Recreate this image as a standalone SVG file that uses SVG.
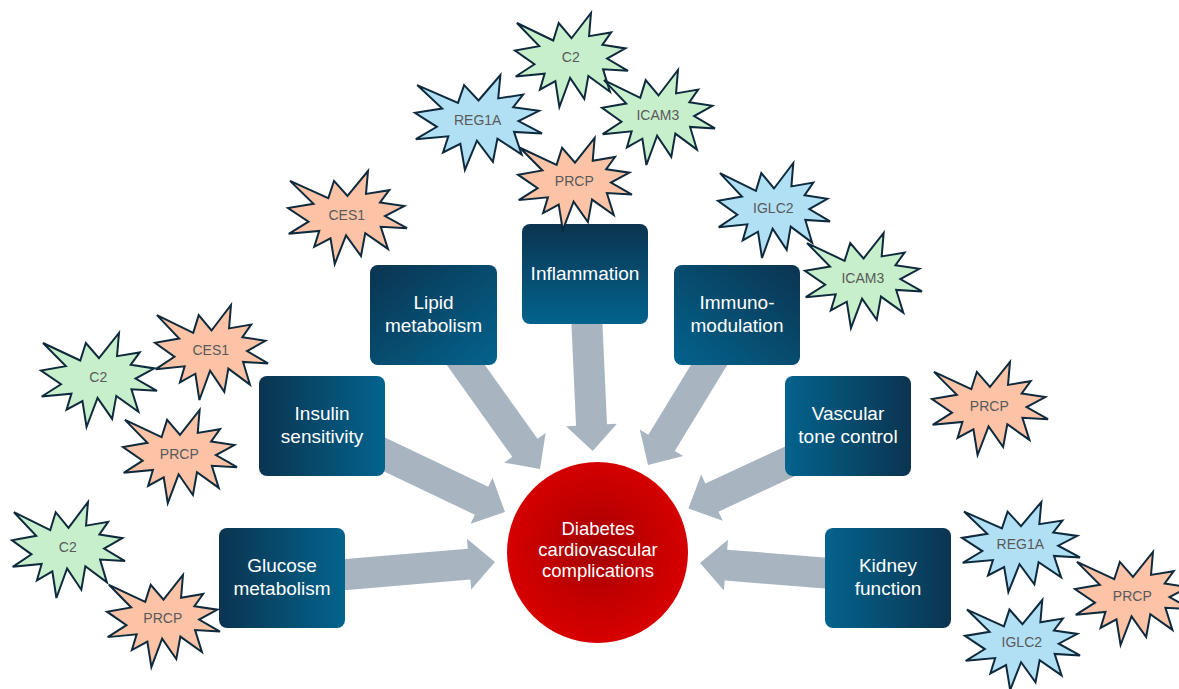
<svg xmlns="http://www.w3.org/2000/svg" xmlns:xlink="http://www.w3.org/1999/xlink" width="1179" height="689" viewBox="0 0 1179 689">
<style>
.box{stroke:none}
.bt{font-family:"Liberation Sans",Arial,sans-serif;font-size:19px;fill:#ffffff;text-anchor:middle}
.ct{font-family:"Liberation Sans",Arial,sans-serif;font-size:18.5px;fill:#ffffff;text-anchor:middle}
.st{font-family:"Liberation Sans",Arial,sans-serif;font-size:14px;fill:#595959;text-anchor:middle}
.arrow{fill:#a8b5c0}
.burst{stroke:#0e2a3c;stroke-width:2;stroke-linejoin:miter}
.g{fill:#c8efcb}.s{fill:#fcc3a7}.b{fill:#b1e0f5}
</style>
<defs>
<linearGradient id="gH" x1="0" y1="0" x2="1" y2="0"><stop offset="0" stop-color="#0b3450"/><stop offset="1" stop-color="#03638d"/></linearGradient>
<linearGradient id="gHr" x1="1" y1="0" x2="0" y2="0"><stop offset="0" stop-color="#0b3450"/><stop offset="1" stop-color="#03638d"/></linearGradient>
<linearGradient id="gD" x1="0" y1="0" x2="1" y2="1"><stop offset="0" stop-color="#0b3450"/><stop offset="1" stop-color="#03638d"/></linearGradient>
<linearGradient id="gDr" x1="1" y1="0" x2="0" y2="1"><stop offset="0" stop-color="#0b3450"/><stop offset="1" stop-color="#03638d"/></linearGradient>
<linearGradient id="gV" x1="0" y1="0" x2="0" y2="1"><stop offset="0" stop-color="#0b3450"/><stop offset="1" stop-color="#03638d"/></linearGradient>
<radialGradient id="gC" cx="0.5" cy="0.48" r="0.5"><stop offset="0" stop-color="#a30000"/><stop offset="0.6" stop-color="#c40000"/><stop offset="1" stop-color="#d60000"/></radialGradient>
<path id="burst" vector-effect="non-scaling-stroke" d="M50,26.85 L67.23,0 L65.53,24.65 L85.09,20.63 L77.32,33.87 L97.67,37.67 L81.51,48.5 L100,61.53 L77.95,59.92 L84,83.77 L64.91,66.93 L61.33,91.38 L48.76,69.14 L39.28,100 L35.72,72.35 L22.05,81.56 L26.24,64.52 L0.63,67.53 L17.23,54.51 L0,39.88 L21.42,35.26 L1.71,10.63 L33.85,29.26 L38.67,10.63 Z"/>
<polygon id="arr" points="-170,-15.5 -26,-15.5 -26,-25.5 0,0 -26,25.5 -26,15.5 -170,15.5"/>
</defs>

<g id="connectors">
<use href="#arr" class="arrow" transform="translate(495,562) rotate(-4.8)"/>
<use href="#arr" class="arrow" transform="translate(505,512) rotate(25.5)"/>
<use href="#arr" class="arrow" transform="translate(540,469) rotate(54.5)"/>
<use href="#arr" class="arrow" transform="translate(592.7,451) rotate(87.4)"/>
<use href="#arr" class="arrow" transform="translate(648,465) rotate(121.4)"/>
<use href="#arr" class="arrow" transform="translate(688.4,508.6) rotate(155)"/>
<use href="#arr" class="arrow" transform="translate(700,563) rotate(184.6)"/>
</g>

<g id="center">
<circle cx="597.5" cy="552.5" r="90.5" fill="url(#gC)"/>
<text class="ct" x="598" y="535">Diabetes</text>
<text class="ct" x="598" y="556">cardiovascular</text>
<text class="ct" x="598" y="577">complications</text>
</g>

<g id="glucose"><rect class="box" x="219" y="528" width="126" height="100" rx="8" fill="url(#gH)"/><text class="bt" x="282" y="572">Glucose</text><text class="bt" x="282" y="595">metabolism</text></g>
<g id="insulin"><rect class="box" x="259" y="376" width="126" height="100" rx="8" fill="url(#gH)"/><text class="bt" x="322" y="420">Insulin</text><text class="bt" x="322" y="443">sensitivity</text></g>
<g id="lipid"><rect class="box" x="370" y="265" width="127" height="100" rx="8" fill="url(#gD)"/><text class="bt" x="433.5" y="309">Lipid</text><text class="bt" x="433.5" y="332">metabolism</text></g>
<g id="inflammation"><rect class="box" x="522" y="224" width="126" height="100" rx="8" fill="url(#gV)"/><text class="bt" x="585" y="280">Inflammation</text></g>
<g id="immuno"><rect class="box" x="674" y="265" width="126" height="100" rx="8" fill="url(#gDr)"/><text class="bt" x="737" y="309">Immuno-</text><text class="bt" x="737" y="332">modulation</text></g>
<g id="vascular"><rect class="box" x="785" y="376" width="126" height="100" rx="8" fill="url(#gHr)"/><text class="bt" x="848" y="420">Vascular</text><text class="bt" x="848" y="443">tone control</text></g>
<g id="kidney"><rect class="box" x="825" y="528" width="126" height="100" rx="8" fill="url(#gHr)"/><text class="bt" x="888" y="572">Kidney</text><text class="bt" x="888" y="595">function</text></g>

<g id="b-c2-top"><use href="#burst" class="burst g" transform="translate(515,13) scale(1.13,0.94)"/><text class="st" x="570.8" y="62">C2</text></g>
<g id="b-icam3-top"><use href="#burst" class="burst g" transform="translate(602,70) scale(1.13,0.95)"/><text class="st" x="657.8" y="119.6">ICAM3</text></g>
<g id="b-reg1a-top"><use href="#burst" class="burst b" transform="translate(415,75) scale(1.27,0.95)"/><text class="st" x="477.7" y="124.6">REG1A</text></g>
<g id="b-prcp-top"><use href="#burst" class="burst s" transform="translate(518,138) scale(1.14,0.92)"/><text class="st" x="574.3" y="186.1">PRCP</text></g>
<g id="b-ces1-top"><use href="#burst" class="burst s" transform="translate(288,171) scale(1.19,0.93)"/><text class="st" x="346.8" y="219.6">CES1</text></g>
<g id="b-iglc2-right"><use href="#burst" class="burst b" transform="translate(718,163) scale(1.12,0.95)"/><text class="st" x="773.3" y="212.6">IGLC2</text></g>
<g id="b-icam3-right"><use href="#burst" class="burst g" transform="translate(805,233) scale(1.17,0.95)"/><text class="st" x="862.8" y="282.6">ICAM3</text></g>
<g id="b-ces1-left"><use href="#burst" class="burst s" transform="translate(155,305) scale(1.13,0.95)"/><text class="st" x="210.8" y="354.6">CES1</text></g>
<g id="b-c2-left"><use href="#burst" class="burst g" transform="translate(41,333) scale(1.16,0.94)"/><text class="st" x="98.3" y="382.1">C2</text></g>
<g id="b-prcp-left"><use href="#burst" class="burst s" transform="translate(123,410) scale(1.14,0.93)"/><text class="st" x="179.3" y="458.6">PRCP</text></g>
<g id="b-prcp-right"><use href="#burst" class="burst s" transform="translate(932,362) scale(1.16,0.93)"/><text class="st" x="989.3" y="410.6">PRCP</text></g>
<g id="b-c2-bl"><use href="#burst" class="burst g" transform="translate(12,502) scale(1.13,0.96)"/><text class="st" x="67.8" y="552">C2</text></g>
<g id="b-prcp-bl"><use href="#burst" class="burst s" transform="translate(107,575) scale(1.13,0.92)"/><text class="st" x="162.8" y="623.1">PRCP</text></g>
<g id="b-reg1a-br"><use href="#burst" class="burst b" transform="translate(962,502) scale(1.18,0.9)"/><text class="st" x="1020.3" y="549.2">REG1A</text></g>
<g id="b-prcp-br"><use href="#burst" class="burst s" transform="translate(1075,552) scale(1.16,0.93)"/><text class="st" x="1132.3" y="600.6">PRCP</text></g>
<g id="b-iglc2-br"><use href="#burst" class="burst b" transform="translate(965,600) scale(1.15,0.9)"/><text class="st" x="1021.8" y="647.2">IGLC2</text></g>
</svg>
